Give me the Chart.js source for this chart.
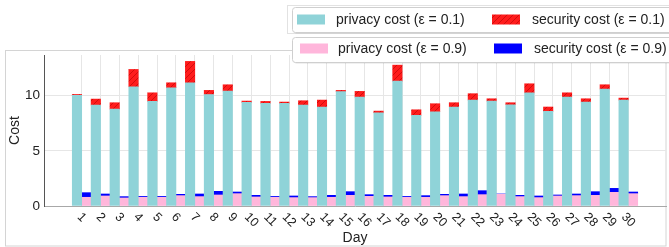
<!DOCTYPE html>
<html>
<head>
<meta charset="utf-8">
<script src="https://cdn.jsdelivr.net/npm/chart.js@4.4.1/dist/chart.umd.min.js"></script>
<style>
html,body{margin:0;padding:0;background:#fff;}
#wrap{width:669px;height:247px;position:relative;}
</style>
</head>
<body>
<div id="wrap"><canvas id="c" width="669" height="247"></canvas></div>
<script>
// ---- data ----
const days = [1,2,3,4,5,6,7,8,9,10,11,12,13,14,15,16,17,18,19,20,21,22,23,24,25,26,27,28,29,30];
const privacy01 = [10.05,9.16,8.79,10.82,9.49,10.73,11.18,10.12,10.43,9.40,9.31,9.31,9.16,8.98,10.37,9.88,8.46,11.33,8.22,8.55,8.98,9.61,9.52,9.19,10.27,8.58,9.88,9.43,10.61,9.61];
const security01 = [0.07,0.54,0.58,1.57,0.78,0.45,1.94,0.37,0.57,0.12,0.18,0.12,0.39,0.63,0.12,0.52,0.15,1.45,0.51,0.73,0.39,0.58,0.21,0.18,0.82,0.40,0.39,0.30,0.39,0.18];
const privacy09 = [0.79,0.91,0.73,0.79,0.79,0.94,0.85,1.00,1.12,0.82,0.79,0.76,0.76,0.79,0.97,0.88,0.82,0.79,0.79,0.94,0.85,1.03,1.06,0.85,0.76,0.91,0.94,0.97,1.24,1.12];
const security09 = [0.42,0.18,0.12,0.08,0.08,0.12,0.24,0.33,0.15,0.15,0.08,0.15,0.09,0.18,0.33,0.15,0.15,0.08,0.15,0.12,0.24,0.36,0.03,0.12,0.15,0.09,0.15,0.33,0.36,0.15];
const yTicks = [0,5,10];
const seriesLabels = ['privacy cost (ε = 0.1)','security cost (ε = 0.1)','privacy cost (ε = 0.9)','security cost (ε = 0.9)'];
const xTitle = 'Day';
const yTitle = 'Cost';

// ---- styles ----
const FONT = '"Liberation Sans", Arial, sans-serif';
const TEAL = 'rgb(143,211,216)';
const PINK = 'rgb(255,182,219)';
const BLUE = 'rgb(0,0,255)';
function makeHatch(){
  const c = document.createElement('canvas'); c.width = 6; c.height = 6;
  const g = c.getContext('2d');
  g.fillStyle = 'rgb(255,28,28)'; g.fillRect(0,0,6,6);
  g.strokeStyle = 'rgb(210,12,12)'; g.lineWidth = 1;
  g.beginPath();
  g.moveTo(-1,7); g.lineTo(7,-1);
  g.moveTo(-4,4); g.lineTo(4,-4);
  g.moveTo(2,10); g.lineTo(10,2);
  g.stroke();
  return document.getElementById('c').getContext('2d').createPattern(c,'repeat');
}
const RED = makeHatch();

const pts = arr => days.map((d,i)=>({x:d, y:arr[i]}));

const frameAndLegend = {
  id:'frameAndLegend',
  beforeDraw(chart){
    const ctx = chart.ctx;
    ctx.save();
    ctx.strokeStyle = '#d4d4d4'; ctx.lineWidth = 1;
    ctx.strokeRect(5.5, 50.5, 660.5, 195.5);
    ctx.restore();
  },
  afterDraw(chart){
    const ctx = chart.ctx;
    const ds = chart.data.datasets;
    ctx.save();
    // faint outer frame
    ctx.strokeStyle = '#e2e2e2'; ctx.lineWidth = 1;
    ctx.strokeRect(287.5, 5.5, 390, 28);
    function box(y){
      const x = 292, w = 390, h = 25, r = 3;
      ctx.fillStyle = 'rgba(0,0,0,0.12)';
      ctx.beginPath(); ctx.roundRect(x+1.5, y+1.5, w, h, r); ctx.fill();
      ctx.fillStyle = '#fff';
      ctx.strokeStyle = '#cfcfcf';
      ctx.beginPath(); ctx.roundRect(x+0.5, y+0.5, w, h, r); ctx.fill(); ctx.stroke();
    }
    box(7); box(37);
    const items = [
      {i:0, sx:297, tx:336, y:19.5},
      {i:1, sx:492, tx:532, y:19.5},
      {i:2, sx:300, tx:338, y:48.5},
      {i:3, sx:494, tx:534, y:48.5}
    ];
    ctx.font = '14px ' + FONT;
    ctx.textBaseline = 'middle';
    ctx.textAlign = 'left';
    items.forEach(it=>{
      ctx.fillStyle = ds[it.i].backgroundColor;
      ctx.fillRect(it.sx, it.y-5, 28, 10);
      ctx.fillStyle = '#222';
      ctx.fillText(ds[it.i].label, it.tx, it.y+0.5);
    });
    // rotated x tick labels
    const xs = chart.scales.x;
    ctx.font = '12.5px ' + FONT;
    ctx.textAlign = 'center';
    ctx.textBaseline = 'middle';
    ctx.fillStyle = '#222';
    days.forEach(d=>{
      const s = String(d);
      const w = ctx.measureText(s).width;
      const px = xs.getPixelForValue(d);
      const cy = 211.5 + (w + 10) * 0.3536;
      ctx.save();
      ctx.translate(px, cy);
      ctx.rotate(Math.PI/4);
      ctx.fillText(s, 0, 0);
      ctx.restore();
    });
    ctx.restore();
  }
};

new Chart(document.getElementById('c'), {
  type:'bar',
  data:{
    datasets:[
      {label:seriesLabels[0], data:pts(privacy01), stack:'e01', backgroundColor:TEAL},
      {label:seriesLabels[1], data:pts(security01), stack:'e01', backgroundColor:RED},
      {label:seriesLabels[2], data:pts(privacy09), stack:'e09', backgroundColor:PINK},
      {label:seriesLabels[3], data:pts(security09), stack:'e09', backgroundColor:BLUE}
    ]
  },
  options:{
    responsive:false,
    animation:false,
    devicePixelRatio:1,
    layout:{padding:{left:0,right:3,top:55,bottom:0}},
    datasets:{bar:{barPercentage:1, categoryPercentage:1, borderWidth:0}},
    plugins:{legend:{display:false}, tooltip:{enabled:false}},
    scales:{
      x:{
        type:'linear', min:-1, max:32, offset:false,
        grid:{offset:false, color:'#e6e6e6', drawTicks:false, lineWidth:1},
        border:{color:'#a8a8a8', width:1},
        ticks:{display:false},
        afterBuildTicks(scale){ scale.ticks = days.map(v=>({value:v})); },
        afterFit(scale){ scale.height = 41; },
        title:{display:true, text:xTitle, color:'#222', font:{family:FONT, size:14}, padding:{top:0,bottom:0.6}}
      },
      y:{
        stacked:true, min:0, max:13.7,
        grid:{color:'#e6e6e6', drawTicks:false, lineWidth:1},
        border:{color:'#555', width:1},
        ticks:{color:'#222', padding:4, font:{family:FONT, size:13.5}},
        afterBuildTicks(scale){ scale.ticks = yTicks.map(v=>({value:v})); },
        afterFit(scale){ scale.width = 44; },
        title:{display:true, text:yTitle, color:'#222', font:{family:FONT, size:14}, padding:{top:6.6,bottom:0}}
      }
    }
  },
  plugins:[frameAndLegend]
});
</script>
</body>
</html>
